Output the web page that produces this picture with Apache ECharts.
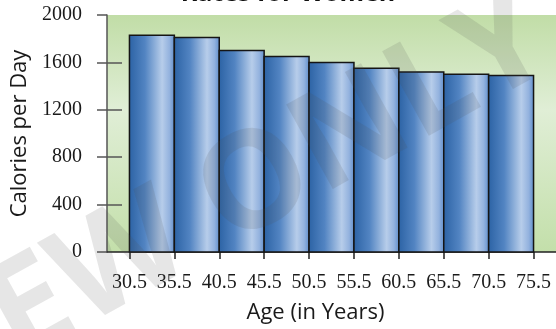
<!DOCTYPE html>
<html>
<head>
<meta charset="utf-8">
<script src="https://cdn.jsdelivr.net/npm/echarts@6/dist/echarts.min.js"></script>
<style>
  html, body { margin: 0; padding: 0; background: #ffffff; }
  #chart { width: 556px; height: 329px; }
</style>
</head>
<body>
<div id="chart"></div>
<script>
// Age class boundaries (years) and daily calorie rate for each class
const ageEdges = [30.5, 35.5, 40.5, 45.5, 50.5, 55.5, 60.5, 65.5, 70.5, 75.5];
const calories = [1830, 1810, 1700, 1650, 1600, 1550, 1520, 1500, 1490];
const yTicks = [0, 400, 800, 1200, 1600, 2000];

const bins = calories.map((v, i) => [ageEdges[i], ageEdges[i + 1], v]);

const chart = echarts.init(document.getElementById('chart'), null, { renderer: 'canvas' });

const barFill = new echarts.graphic.LinearGradient(0, 0, 1, 0, [
  { offset: 0, color: '#2b62a4' },
  { offset: 0.35, color: '#5284c2' },
  { offset: 0.72, color: '#b7cdea' },
  { offset: 0.88, color: '#93b2de' },
  { offset: 1, color: '#5b8bca' }
]);

const serif = { fontFamily: 'Liberation Serif', fontSize: 20, color: '#1a1a1a' };
const sans = { fontFamily: 'Open Sans', fontSize: 22, color: '#1a1a1a' };

chart.setOption({
  animation: false,
  grid: {
    left: 107, right: 0, top: 15, bottom: 77,
    outerBoundsMode: 'none',
    show: true, borderWidth: 0,
    backgroundColor: new echarts.graphic.LinearGradient(0, 0, 0, 1, [
      { offset: 0, color: '#c1dda7' },
      { offset: 0.4, color: '#e0eed6' },
      { offset: 1, color: '#c3dfaa' }
    ])
  },
  graphic: [
    {
      type: 'text', x: 288, y: 6, z: 10,
      style: {
        text: 'Rates for Women', align: 'center', verticalAlign: 'bottom',
        fontFamily: 'Open Sans', fontWeight: 'bold', fontSize: 25, fill: '#111'
      }
    },
    {
      type: 'text', x: 540, y: 30, rotation: 29 * Math.PI / 180, z: 100,
      style: {
        text: 'PREVIEW ONLY', align: 'right', verticalAlign: 'middle',
        fontFamily: 'Open Sans', fontWeight: 'bold', fontSize: 135,
        fill: 'rgba(80,80,80,0.14)'
      }
    }
  ],
  xAxis: {
    type: 'value', min: 28, max: 78,
    name: 'Age (in Years)', nameLocation: 'middle', nameGap: 50,
    nameTextStyle: Object.assign({ padding: [0, 32, 0, 0] }, sans),
    axisLine: { show: true, lineStyle: { color: '#222', width: 1.5 } },
    axisTick: { show: true, length: 7, customValues: ageEdges, lineStyle: { color: '#222', width: 1.5 } },
    axisLabel: Object.assign({ margin: 21, customValues: ageEdges }, serif),
    splitLine: { show: false }
  },
  yAxis: [
    {
      type: 'value', min: 0, max: 2000, interval: 400,
      name: 'Calories per Day', nameLocation: 'middle', nameGap: 76, nameRotate: 90,
      nameTextStyle: sans,
      axisLine: { show: true, lineStyle: { color: '#555', width: 1.5 } },
      axisTick: { show: true, length: 10, lineStyle: { color: '#555', width: 1.5 } },
      axisLabel: Object.assign({ margin: 25, customValues: yTicks, formatter: v => String(v) }, serif),
      splitLine: { show: false }
    },
    {
      type: 'value', min: 0, max: 2000, interval: 400, position: 'left',
      axisLine: { show: false },
      axisTick: { show: true, inside: true, length: 15, customValues: [400, 800, 1200, 1600], lineStyle: { color: '#555', width: 1.5 } },
      axisLabel: { show: false },
      splitLine: { show: false }
    }
  ],
  series: [{
    type: 'custom',
    data: bins,
    encode: { x: [0, 1], y: 2 },
    renderItem: function (params, api) {
      const topLeft = api.coord([api.value(0), api.value(2)]);
      const bottomRight = api.coord([api.value(1), 0]);
      return {
        type: 'rect',
        shape: {
          x: topLeft[0], y: topLeft[1],
          width: bottomRight[0] - topLeft[0],
          height: bottomRight[1] - topLeft[1]
        },
        style: { fill: barFill, stroke: '#151515', lineWidth: 1.5 }
      };
    }
  }]
});
</script>
</body>
</html>
